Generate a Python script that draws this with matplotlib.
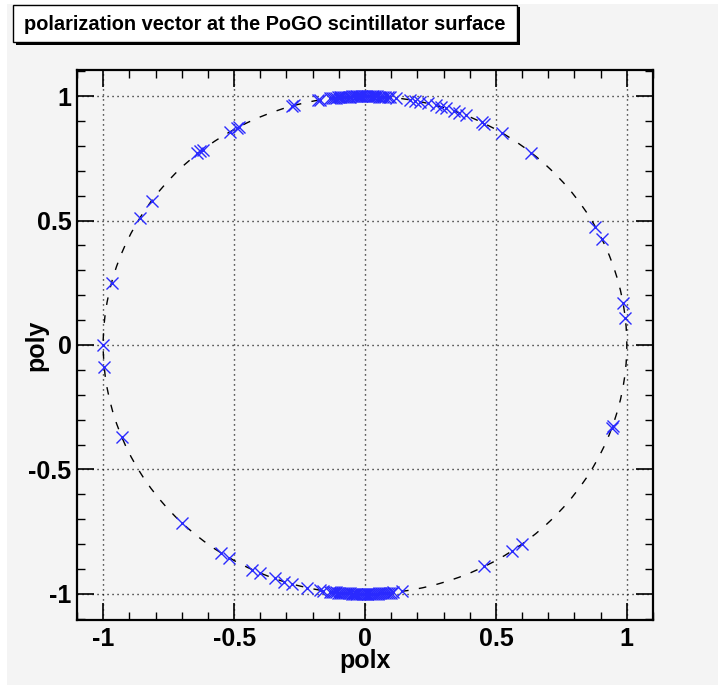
import matplotlib
matplotlib.use("Agg")
import matplotlib.pyplot as plt
from matplotlib.patches import Circle, Rectangle
from matplotlib.ticker import MultipleLocator

plt.rcParams['font.family'] = ['Liberation Sans', 'DejaVu Sans']
plt.rcParams['axes.unicode_minus'] = False

title = "polarization vector at the PoGO scintillator surface"
xlabel = "polx"
ylabel = "poly"
xticks = [-1, -0.5, 0, 0.5, 1]
yticks = [-1, -0.5, 0, 0.5, 1]
xtick_labels = ["-1", "-0.5", "0", "0.5", "1"]
ytick_labels = ["-1", "-0.5", "0", "0.5", "1"]

# dense cluster near the top of the circle
top_x = [-0.125, -0.118, -0.11, -0.104, -0.097, -0.09, -0.083, -0.077, -0.07, -0.063,
         -0.056, -0.05, -0.043, -0.036, -0.03, -0.023, -0.016, -0.01, -0.003, 0.004,
         0.011, 0.018, 0.025, 0.032, 0.04, 0.047, 0.055, 0.062, 0.07, 0.078, 0.086, 0.094]
top_y = [0.992, 0.993, 0.994, 0.995, 0.995, 0.996, 0.997, 0.997, 0.998, 0.998,
         0.998, 0.999, 0.999, 0.999, 1.0, 1.0, 1.0, 1.0, 1.0, 1.0,
         1.0, 1.0, 1.0, 0.999, 0.999, 0.999, 0.998, 0.998, 0.998, 0.997, 0.996, 0.996]

# dense cluster near the bottom of the circle
bot_x = [-0.135, -0.127, -0.119, -0.111, -0.103, -0.095, -0.087, -0.08, -0.072, -0.064,
         -0.057, -0.05, -0.043, -0.036, -0.029, -0.022, -0.015, -0.008, -0.001, 0.006,
         0.013, 0.02, 0.027, 0.034, 0.041, 0.048, 0.055, 0.062, 0.069, 0.076, 0.084,
         0.092, 0.1, 0.106]
bot_y = [-0.991, -0.992, -0.993, -0.994, -0.995, -0.995, -0.996, -0.997, -0.997, -0.998,
         -0.998, -0.999, -0.999, -0.999, -1.0, -1.0, -1.0, -1.0, -1.0, -1.0,
         -1.0, -1.0, -1.0, -0.999, -0.999, -0.999, -0.998, -0.998, -0.998, -0.997, -0.996,
         -0.996, -0.995, -0.994]

# remaining scattered points around the circle
ring_x = [-0.28, -0.27, -0.18, -0.17, -0.135,
          0.12, 0.17, 0.19, 0.21, 0.24, 0.27, 0.29, 0.31, 0.34, 0.36, 0.385, 0.445, 0.455, 0.524, 0.634,
          0.88, 0.905, 0.985, 0.994, 0.943, 0.946,
          0.455, 0.56, 0.60,
          0.143, -0.17, -0.16, -0.22, -0.28, -0.31, -0.345, -0.40, -0.43,
          -0.70, -0.55, -0.52,
          -1.0, -0.996, -0.968, -0.93, -0.86, -0.815,
          -0.64, -0.63, -0.62, -0.516, -0.49, -0.48]
ring_y = [0.960, 0.963, 0.984, 0.985, 0.991,
          0.993, 0.985, 0.982, 0.978, 0.971, 0.963, 0.957, 0.951, 0.940, 0.933, 0.923, 0.896, 0.890, 0.852, 0.773,
          0.475, 0.425, 0.17, 0.11, -0.333, -0.327,
          -0.890, -0.828, -0.800,
          -0.990, -0.985, -0.987, -0.976, -0.960, -0.951, -0.938, -0.916, -0.903,
          -0.714, -0.835, -0.854,
          0.0, -0.09, 0.25, -0.37, 0.51, 0.58,
          0.770, 0.778, 0.785, 0.857, 0.872, 0.877]

W, H = 718, 685
fig = plt.figure(figsize=(W / 100, H / 100), dpi=100)
fig.patch.set_facecolor('white')
bg = '#f4f4f4'
fig.patches.append(Rectangle((7 / W, 0), 1 - 7 / W, (H - 4) / H, transform=fig.transFigure,
                             facecolor=bg, edgecolor='none', zorder=-10))

# title box with shadow
bx0, by0, bx1, by1 = 13, 5, 517, 42
fig.patches.append(Rectangle(((bx0 + 2.5) / W, 1 - (by1 + 2.5) / H), (bx1 - bx0) / W, (by1 - by0) / H,
                             transform=fig.transFigure, facecolor='black', edgecolor='none', zorder=1))
fig.patches.append(Rectangle((bx0 / W, 1 - by1 / H), (bx1 - bx0) / W, (by1 - by0) / H,
                             transform=fig.transFigure, facecolor='white', edgecolor='black',
                             linewidth=1.0, zorder=2))
fig.text(24 / W, 1 - 24 / H, title, fontsize=14.4, fontweight='bold', ha='left', va='center', zorder=3)

ax = fig.add_axes([77 / W, 1 - 620 / H, 576 / W, 550 / H])
ax.set_facecolor(bg)
ax.set_xlim(-1.1, 1.1)
ax.set_ylim(-1.105, 1.105)

ax.add_patch(Circle((0, 0), 1.0, fill=False, edgecolor='black', linewidth=1.0,
                    linestyle=(0, (5.5, 7.5)), zorder=2))

for xs, ys in [(top_x, top_y), (bot_x, bot_y), (ring_x, ring_y)]:
    ax.plot(xs, ys, linestyle='none', marker='x', markersize=9, markeredgewidth=1.0,
            color='#2a2aff', zorder=3)

ax.set_xticks(xticks)
ax.set_xticklabels(xtick_labels)
ax.set_yticks(yticks)
ax.set_yticklabels(ytick_labels)
ax.xaxis.set_minor_locator(MultipleLocator(0.1))
ax.yaxis.set_minor_locator(MultipleLocator(0.1))
ax.tick_params(which='both', direction='in', top=True, right=True, color='black')
ax.tick_params(which='major', length=12, width=1.2, labelsize=18)
ax.tick_params(which='minor', length=6, width=1.0)
ax.tick_params(axis='x', which='major', pad=5)
ax.tick_params(axis='y', which='major', pad=4)
for lab in ax.get_xticklabels() + ax.get_yticklabels():
    lab.set_fontweight('bold')

ax.grid(True, which='major', color='black', linestyle=(0, (0.8, 2.8)), linewidth=1.0)
ax.set_axisbelow(True)
for s in ax.spines.values():
    s.set_linewidth(1.6)

ax.set_xlabel(xlabel, fontsize=18, fontweight='bold')
ax.set_ylabel(ylabel, fontsize=18, fontweight='bold')
ax.xaxis.set_label_coords(0.5, -0.053)
ax.xaxis.label.set_va('top')
ax.yaxis.set_label_coords(-0.05, 0.5)

fig.savefig('out.png', dpi=100, facecolor=fig.get_facecolor())
